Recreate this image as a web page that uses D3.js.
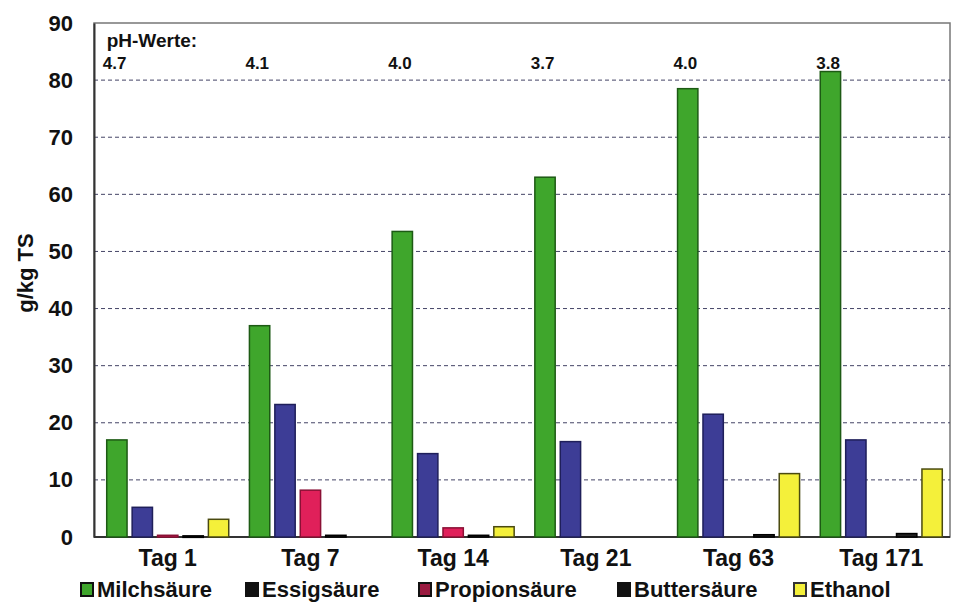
<!DOCTYPE html>
<html><head><meta charset="utf-8">
<script src="https://cdn.jsdelivr.net/npm/d3@7"></script>
<style>body{margin:0;background:#fff;}svg{display:block;font-family:"Liberation Sans",Arial,sans-serif;font-weight:bold;}</style>
</head><body><svg id="c" width="957" height="603"></svg>
<script>
const categories = ["Tag 1","Tag 7","Tag 14","Tag 21","Tag 63","Tag 171"];
const seriesNames = ["Milchsäure","Essigsäure","Propionsäure","Buttersäure","Ethanol"];
const milchsaeure = [17, 37, 53.5, 63, 78.5, 81.5];
const essigsaeure = [5.2, 23.2, 14.6, 16.7, 21.5, 17];
const propionsaeure = [0.3, 8.2, 1.6, 0, 0, 0];
const buttersaeure = [0.2, 0.3, 0.3, 0, 0.4, 0.6];
const ethanol = [3.1, 0, 1.8, 0, 11.1, 11.9];
const phValues = ["4.7","4.1","4.0","3.7","4.0","3.8"];
const yTicks = [0,10,20,30,40,50,60,70,80,90];

const seriesData = [milchsaeure, essigsaeure, propionsaeure, buttersaeure, ethanol];
const fills = ["#3fa62c","#3d3d96","#e0205a","#222222","#f4f03a"];
const strokes = ["#1d5a14","#1f1f5a","#8a1035","#000000","#4a4a10"];
const legendFills = ["#3fa62c","#111111","#9a1a40","#111111","#f4f03a"];
const legendStrokes = ["#111111","#111111","#111111","#111111","#333333"];

const svg = d3.select("#c");
const L = 94, R = 950, T = 23, B = 537;
const x0 = d3.scaleBand().domain(categories).range([96.5, 952.5]).paddingInner(0.145).paddingOuter(0.0716);
const x1 = d3.scaleBand().domain(seriesNames).range([0, x0.bandwidth()]).paddingInner(0.2);
const y = d3.scaleLinear().domain([0, 90]).range([B, T]);

// frame
svg.append("rect").attr("x", L).attr("y", T).attr("width", R - L).attr("height", B - T)
  .attr("fill", "#fff").attr("stroke", "#777").attr("stroke-width", 1.5);

// gridlines
svg.append("g").selectAll("line").data(yTicks.filter(d => d > 0 && d < 90)).join("line")
  .attr("x1", L).attr("x2", R).attr("y1", d => y(d)).attr("y2", d => y(d))
  .attr("stroke", "#444466").attr("stroke-width", 1).attr("stroke-dasharray", "4,3");

// y axis
const yAxis = d3.axisLeft(y).tickValues(yTicks).tickSize(0).tickPadding(21);
const ga = svg.append("g").attr("transform", `translate(${L},0)`).call(yAxis);
ga.select(".domain").attr("stroke", "#333").attr("stroke-width", 2);
ga.selectAll("text").attr("font-size", 22).attr("font-weight", "bold").attr("fill", "#111")
  .attr("font-family", "Liberation Sans, Arial, sans-serif");

// bottom axis line
svg.append("line").attr("x1", L).attr("x2", R).attr("y1", B).attr("y2", B)
  .attr("stroke", "#333").attr("stroke-width", 2);

// bars
const groups = svg.append("g").selectAll("g").data(categories).join("g")
  .attr("transform", d => `translate(${x0(d)},0)`);
groups.selectAll("rect").data((c, i) => seriesNames.map((s, k) => ({s, k, v: seriesData[k][i]})).filter(d => d.v > 0))
  .join("rect")
  .attr("x", d => x1(d.s)).attr("width", x1.bandwidth())
  .attr("y", d => y(d.v)).attr("height", d => Math.max(1.5, y(0) - y(d.v)))
  .attr("fill", d => fills[d.k]).attr("stroke", d => strokes[d.k]).attr("stroke-width", 1.5);

// x labels
const xAxis = d3.axisBottom(x0).tickSize(0).tickPadding(13);
const gx = svg.append("g").attr("transform", `translate(0,${B})`).call(xAxis);
gx.select(".domain").remove();
gx.selectAll("text").attr("font-size", 23).attr("font-weight", "bold").attr("fill", "#111")
  .attr("font-family", "Liberation Sans, Arial, sans-serif");

// pH labels
svg.append("text").attr("x", x0(categories[0]) + x1(seriesNames[0])).attr("y", 47)
  .attr("font-size", 19).attr("fill", "#111").text("pH-Werte:");
svg.append("g").selectAll("text").data(phValues).join("text")
  .attr("x", (d, i) => x0(categories[i]) + x1(seriesNames[0]) - 4).attr("y", 69)
  .attr("font-size", 17).attr("fill", "#111").text(d => d);

// y title
svg.append("text").attr("transform", "translate(33,273) rotate(-90)")
  .attr("text-anchor", "middle").attr("font-size", 22).attr("fill", "#111").text("g/kg TS");

// legend
const legX = [80, 245, 418, 617, 793];
const lg = svg.append("g").selectAll("g").data(seriesNames).join("g")
  .attr("transform", (d, i) => `translate(${legX[i]},583)`);
lg.append("rect").attr("x", 1).attr("y", 0).attr("width", 12).attr("height", 13)
  .attr("fill", (d, i) => legendFills[i]).attr("stroke", (d, i) => legendStrokes[i]).attr("stroke-width", 2);
lg.append("text").attr("x", 17).attr("y", 14).attr("font-size", 22).attr("fill", "#111").text(d => d);
</script></body></html>
